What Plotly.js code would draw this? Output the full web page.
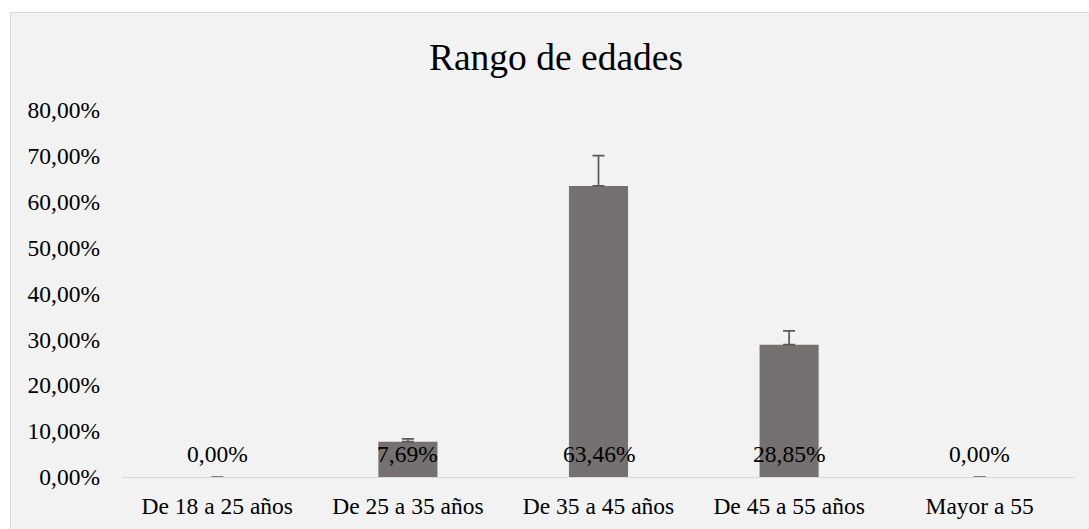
<!DOCTYPE html>
<html>
<head>
<meta charset="utf-8">
<script src="https://cdn.plot.ly/plotly-3.0.1.min.js"></script>
<style>
  html, body { margin: 0; padding: 0; background: #ffffff; overflow: hidden; }
  #frame {
    position: absolute; left: 10px; top: 12px;
    width: 1090px; height: 530px;
    background: #f2f2f2; border: 1px solid #d9d9d9;
  }
  #chart { width: 1090px; height: 530px; }
</style>
</head>
<body>
<div id="frame"><div id="chart"></div></div>
<script>
// Rango de edades
const categories = ['De 18 a 25 años', 'De 25 a 35 años', 'De 35 a 45 años', 'De 45 a 55 años', 'Mayor a 55'];
const shares = [0, 0.0769, 0.6346, 0.2885, 0];
const errorsUp = [0, 0.006, 0.066, 0.030, 0];

const serif = 'Liberation Serif, Times New Roman, serif';

const bars = {
    type: 'bar',
    x: categories,
    y: shares,
    width: 0.31,
    marker: { color: '#767171' },
    error_y: {
        type: 'data',
        symmetric: false,
        array: errorsUp,
        arrayminus: shares.map(() => 0),
        color: '#595959',
        thickness: 1.7,
        width: 6
    },
    hoverinfo: 'x+y'
};

// value labels sit just above the base of each bar
const labels = categories.map((c, i) => ({
    x: c,
    y: 0,
    xref: 'x',
    yref: 'y',
    text: (shares[i] * 100).toFixed(2).replace('.', ',') + '%',
    showarrow: false,
    yanchor: 'middle',
    yshift: 23,
    font: { family: serif, size: 23.5, color: '#000000' }
}));

const layout = {
    width: 1090,
    height: 530,
    separators: ',.',
    paper_bgcolor: '#f2f2f2',
    plot_bgcolor: '#f2f2f2',
    margin: { l: 111, r: 26, t: 97, b: 66 },
    title: {
        text: 'Rango de edades',
        font: { family: serif, size: 37.5, color: '#000000' },
        x: 0.5,
        xref: 'container',
        y: 1 - 44 / 530,
        yref: 'container',
        yanchor: 'middle'
    },
    xaxis: {
        showline: true,
        linecolor: '#d9d9d9',
        linewidth: 1,
        showgrid: false,
        ticks: '',
        ticklabelstandoff: 8,
        tickfont: { family: serif, size: 23.5, color: '#000000' }
    },
    yaxis: {
        range: [0, 0.8],
        dtick: 0.1,
        tickformat: '.2%',
        showgrid: false,
        zeroline: false,
        showline: false,
        ticks: '',
        ticklabelstandoff: 21,
        tickfont: { family: serif, size: 23.5, color: '#000000' }
    },
    annotations: labels,
    showlegend: false,
    bargap: 0.69
};

Plotly.newPlot('chart', [bars], layout, { displayModeBar: false, staticPlot: true });
</script>
</body>
</html>
